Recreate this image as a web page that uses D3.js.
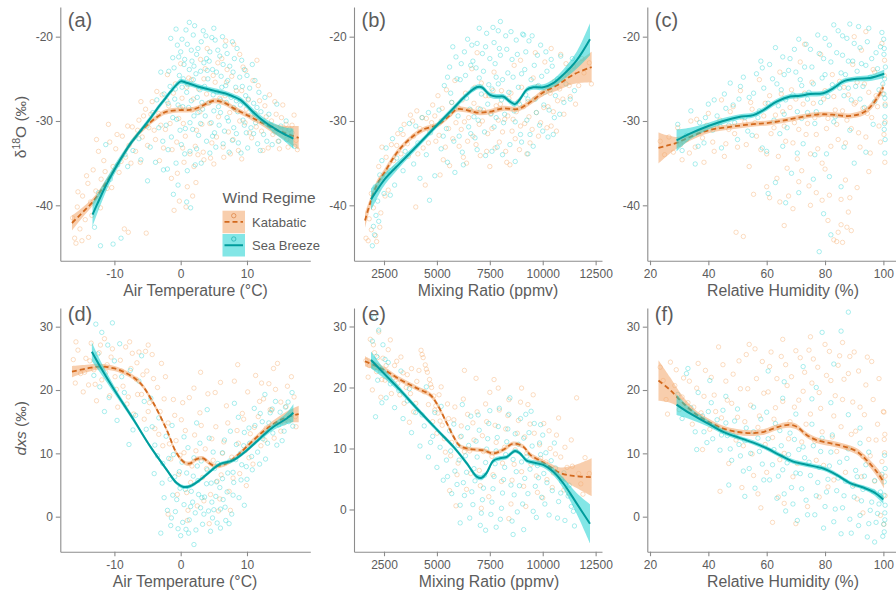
<!DOCTYPE html>
<html><head><meta charset="utf-8">
<script src="https://cdn.jsdelivr.net/npm/d3@7"></script>
<style>
body{margin:0;background:#fff}
svg{display:block}
text{font-family:"Liberation Sans",Arial,Helvetica,sans-serif}
</style>
</head><body>
<svg id="chart" width="896" height="596"></svg>
<script>
// ---------- tick values ----------
const tempTicks = [-10, 0, 10];
const mixTicks = [2500, 5000, 7500, 10000, 12500];
const rhTicks = [20, 40, 60, 80, 100];
const d18oTicks = [-40, -30, -20];
const dxsTicks = [0, 10, 20, 30];

const regimes = ["Katabatic", "Sea Breeze"];

// ---------- (a) d18O vs air temperature ----------
const aKatPoints = [[-16.3,-41.5],[-16.0,-43.9],[-15.6,-40.2],[-15.2,-42.8],[-14.8,-38.9],[-14.4,-41.7],[-14.0,-37.4],[-13.6,-39.6],[-13.2,-35.8],[-12.8,-38.3],[-12.4,-33.6],[-12.0,-36.9],[-11.6,-34.7],[-11.1,-38.0],[-10.7,-32.5],[-10.2,-35.4],[-9.8,-33.3],[-9.3,-36.1],[-8.8,-31.8],[-8.3,-34.3],[-7.8,-32.9],[-7.3,-30.7],[-6.8,-33.6],[-6.3,-29.9],[-5.8,-31.9],[-5.3,-28.6],[-4.8,-30.8],[-4.3,-27.7],[-3.8,-32.2],[-3.3,-29.1],[-2.8,-26.9],[-2.3,-31.0],[-1.8,-28.2],[-1.3,-33.4],[-0.8,-25.6],[-0.3,-29.7],[0.2,-27.3],[0.7,-31.8],[1.2,-24.9],[1.7,-28.7],[2.2,-33.0],[2.7,-26.2],[3.2,-30.4],[3.7,-23.8],[4.2,-27.9],[4.7,-32.6],[5.2,-25.4],[5.7,-29.5],[6.2,-22.6],[6.7,-27.0],[7.2,-31.3],[7.7,-24.7],[8.2,-28.6],[8.7,-33.5],[9.2,-26.4],[9.7,-30.2],[10.2,-27.5],[10.7,-32.0],[11.2,-29.1],[11.7,-25.8],[12.2,-31.2],[12.7,-28.2],[13.2,-33.2],[13.7,-30.0],[14.2,-27.7],[14.7,-32.4],[15.2,-29.6],[15.7,-31.0],[16.2,-33.1],[16.8,-30.5],[17.4,-32.3],[0.5,-34.9],[2.0,-35.4],[3.5,-34.6],[5.0,-35.1],[6.5,-34.3],[1.0,-37.8],[-0.5,-36.2],[-1.0,-40.6],[1.8,-38.9],[-8.5,-42.8],[-7.9,-43.2],[-5.2,-43.3],[-15.8,-44.5],[-14.9,-44.2],[-13.9,-43.8],[-12.7,-32.2],[-10.9,-30.4],[-6.0,-27.7],[4.0,-21.4],[6.8,-20.5],[3.0,-22.7],[8.9,-22.1],[9.8,-24.0],[11.5,-22.8],[-2.0,-24.5],[0.0,-23.2],
  [-15.5,-38.4],[-14.2,-36.5],[-13.4,-41.2],[-12.1,-40.3],[-11.4,-36.0],[-10.4,-37.9],[-9.6,-31.6],[-9.0,-34.8],[-8.0,-30.6],[-7.5,-35.0],[-6.5,-31.1],[-6.1,-34.9],[-5.6,-29.4],[-5.0,-32.9],[-4.5,-29.2],[-4.0,-31.1],[-3.6,-26.5],[-3.0,-30.5],[-2.6,-33.2],[-2.1,-27.6],[-1.6,-30.3],[-1.1,-26.7],[-0.6,-32.5],[-0.1,-28.4],[0.4,-30.3],[0.9,-26.0],[1.4,-33.9],[1.9,-27.4],[2.4,-31.1],[2.9,-28.9],[3.4,-33.7],[3.9,-26.8],[4.4,-30.3],[4.9,-24.6],[5.4,-31.9],[5.9,-27.3],[6.4,-33.1],[6.9,-25.4],[7.4,-29.0],[7.9,-32.2],[8.4,-26.4],[8.9,-30.0],[9.4,-23.6],[9.9,-28.6],[10.4,-31.4],[10.9,-25.2],[11.4,-30.7],[11.9,-27.6],[12.4,-33.5],[12.9,-29.5],[13.4,-26.9],[13.9,-31.6],[14.4,-29.2],[14.9,-33.3],[15.4,-28.1],[15.9,-30.4],[16.5,-31.8],[17.1,-29.3],[17.6,-33.4],[2.6,-34.0],[4.5,-34.4],[7.5,-33.9],[9.2,-34.5],[-3.2,-34.7],[0.3,-33.2],[1.6,-25.1],[3.5,-25.0],[5.6,-23.1],[7.0,-23.9],[8.0,-20.9],[-1.4,-36.8],[-0.2,-39.5],[2.3,-37.3],[0.8,-40.2]];
const aSeaPoints = [[-1.8,-24.1],[-1.2,-22.5],[-0.5,-21.0],[0.2,-20.3],[0.8,-19.2],[1.3,-18.3],[1.9,-19.8],[2.6,-21.4],[3.1,-20.6],[3.8,-19.9],[4.4,-21.8],[5.2,-20.4],[5.9,-22.3],[6.7,-21.1],[7.4,-23.5],[8.1,-22.6],[8.9,-24.8],[9.6,-23.9],[10.4,-26.1],[11.2,-25.2],[-2.5,-26.8],[-1.6,-25.9],[-0.9,-27.4],[-0.2,-24.6],[0.5,-23.3],[1.1,-25.7],[1.7,-22.9],[2.3,-24.4],[2.9,-26.3],[3.5,-23.1],[4.1,-25.0],[4.8,-23.9],[5.5,-26.6],[6.1,-24.7],[6.8,-25.8],[7.6,-27.2],[8.3,-26.0],[9.0,-28.1],[9.8,-27.0],[10.6,-29.3],[11.5,-28.4],[12.4,-30.1],[13.3,-29.2],[14.2,-31.3],[15.1,-30.6],[16.0,-32.2],[16.8,-31.4],[-2.2,-30.5],[-1.4,-31.9],[-0.6,-29.8],[0.1,-32.8],[0.7,-30.9],[1.4,-33.6],[2.0,-29.4],[2.7,-31.7],[3.3,-28.6],[3.9,-32.4],[4.6,-30.2],[5.3,-33.1],[6.0,-29.0],[6.6,-31.2],[7.3,-33.7],[8.0,-30.8],[8.7,-32.6],[9.4,-29.9],[10.1,-33.2],[11.0,-31.5],[12.0,-33.5],[13.0,-32.4],[-4.2,-29.0],[-3.6,-27.5],[-3.0,-24.2],[-5.1,-30.6],[-6.3,-32.1],[-7.2,-33.5],[-8.4,-34.0],[-9.5,-35.2],[-10.6,-36.9],[-11.3,-32.8],[-12.4,-38.5],[-13.0,-42.6],[-12.1,-44.8],[-10.2,-44.6],[-9.0,-43.9],[-5.0,-37.1],[-3.8,-34.9],[-2.6,-35.8],[-1.1,-38.7],[0.9,-39.6],[1.5,-40.3],[-0.4,-37.6],[2.2,-35.2],[-1.9,-33.4],[0.3,-28.3],[-0.8,-26.2],[1.6,-27.6],[4.3,-27.8],[5.7,-28.3],[7.0,-29.6],[8.6,-28.9],[14.5,-28.0],[12.7,-27.2],[11.8,-26.6],[15.9,-30.0],
  [-1.5,-20.2],[-0.7,-19.1],[0.0,-21.8],[0.6,-22.7],[1.0,-20.9],[1.6,-21.6],[2.1,-18.7],[2.4,-22.1],[3.4,-19.3],[3.9,-22.6],[4.7,-20.1],[5.0,-19.0],[5.6,-21.6],[6.3,-20.0],[7.0,-22.0],[7.8,-20.6],[8.5,-21.4],[9.2,-22.8],[10.0,-24.6],[10.8,-23.3],[-1.9,-27.9],[-1.0,-23.7],[-0.3,-22.4],[0.4,-25.0],[0.9,-26.6],[1.3,-23.9],[1.9,-25.1],[2.5,-27.2],[3.0,-24.1],[3.6,-25.9],[4.3,-22.9],[4.9,-26.9],[5.4,-24.2],[6.0,-27.5],[6.4,-23.3],[7.1,-25.2],[7.9,-24.2],[8.4,-27.6],[9.3,-25.9],[10.2,-27.4],[11.0,-27.9],[12.1,-28.9],[13.6,-30.5],[-2.7,-32.4],[-1.2,-29.6],[-0.1,-31.1],[0.6,-33.9],[1.2,-28.4],[1.8,-31.0],[2.4,-33.3],[3.0,-30.3],[3.7,-29.4],[4.4,-33.8],[5.1,-31.4],[5.8,-30.5],[6.4,-32.7],[7.2,-30.0],[7.8,-32.3],[8.4,-31.5],[9.1,-33.8],[9.9,-31.4],[10.6,-30.8],[11.6,-32.7],[12.5,-31.6],[13.8,-32.8],[14.8,-32.4],[16.4,-31.0],[17.2,-33.0],[-3.3,-30.8],[-4.6,-33.1],[-6.0,-34.6],[-8.0,-35.4],[-2.0,-35.7],[-0.7,-35.0],[1.0,-35.9],[3.1,-35.0],[0.2,-26.0],[2.0,-23.5],[4.0,-24.0],[6.2,-26.0],[8.0,-28.4],[3.2,-27.8],[5.0,-28.8],[-0.4,-28.1],[1.4,-30.2],[2.6,-29.0],[4.8,-31.8],[6.9,-27.8],[9.6,-30.5],[11.3,-30.2]];
// smooth fits: [x, fitted value, half-width of confidence band]
const aKatFit = [[-16.4,-42.1,0.9],[-15.5,-41.4,0.7],[-14.5,-40.6,0.55],[-13.5,-39.8,0.45],[-12.5,-38.8,0.4],[-11.5,-37.6,0.35],[-10.5,-36.4,0.35],[-9.5,-35.1,0.3],[-8.5,-33.8,0.3],[-7.5,-32.6,0.3],[-6.5,-31.6,0.3],[-5.5,-30.8,0.3],[-4.5,-30.1,0.3],[-3.5,-29.5,0.3],[-2.5,-29.0,0.3],[-1.5,-28.8,0.3],[0,-28.7,0.3],[1,-28.7,0.3],[2,-28.6,0.3],[3,-28.3,0.3],[4,-27.9,0.3],[5,-27.6,0.3],[6,-27.7,0.3],[7,-28.0,0.3],[8,-28.5,0.3],[9,-28.9,0.3],[10,-29.3,0.3],[11,-29.7,0.35],[12,-30.1,0.35],[13,-30.5,0.45],[14,-30.9,0.55],[15,-31.2,0.7],[16,-31.5,0.9],[17,-31.8,1.2],[17.8,-32.0,1.4]];
const aSeaFit = [[-13.3,-41.1,1.4],[-12.5,-39.7,1.1],[-11.5,-38.0,0.8],[-10.5,-36.5,0.6],[-9.5,-35.1,0.5],[-8.5,-33.8,0.4],[-7.5,-32.6,0.35],[-6.5,-31.6,0.3],[-5.5,-30.6,0.3],[-4.5,-29.6,0.3],[-3.5,-28.5,0.3],[-2.5,-27.5,0.3],[-1.5,-26.5,0.3],[-0.5,-25.6,0.3],[0,-25.3,0.3],[1,-25.5,0.3],[3,-26.0,0.3],[5,-26.4,0.3],[7,-26.8,0.3],[8,-27.1,0.3],[9,-27.5,0.35],[10,-28.2,0.35],[11,-29.0,0.4],[12,-29.7,0.4],[13,-30.3,0.45],[14,-30.8,0.55],[15,-31.3,0.7],[16,-31.7,0.9],[17,-32.1,1.2]];

// ---------- (b) d18O vs mixing ratio ----------
const bKatPoints = [[1650,-43.9],[1750,-44.2],[1800,-41.6],[1900,-42.9],[2000,-40.3],[2100,-43.6],[2200,-38.1],[2250,-35.4],[2350,-40.9],[2450,-36.7],[2600,-34.3],[2700,-38.2],[2850,-32.8],[3000,-35.6],[3150,-31.5],[3300,-33.9],[3450,-30.4],[3600,-32.7],[3750,-29.3],[3900,-31.8],[4000,-40.2],[4050,-28.8],[4200,-30.9],[4350,-33.2],[4450,-37.6],[4500,-29.7],[4650,-31.3],[4800,-28.1],[4950,-32.4],[5050,-27.0],[5200,-30.0],[5300,-34.6],[5450,-26.3],[5600,-29.2],[5750,-32.1],[5850,-25.2],[6000,-28.4],[6150,-31.0],[6250,-34.3],[6350,-26.7],[6500,-29.6],[6650,-23.8],[6750,-27.9],[6850,-32.8],[7000,-30.4],[7100,-25.5],[7200,-28.7],[7350,-33.6],[7450,-27.0],[7600,-30.9],[7700,-24.2],[7800,-28.2],[7950,-32.5],[8050,-26.4],[8200,-29.8],[8300,-34.9],[8400,-27.3],[8550,-31.2],[8650,-23.4],[8750,-28.9],[8900,-33.4],[9000,-26.0],[9150,-30.3],[9300,-27.7],[9400,-32.6],[9550,-24.9],[9700,-29.0],[9800,-31.8],[9950,-26.8],[10100,-23.0],[10250,-28.3],[10400,-30.6],[10550,-25.3],[10700,-27.6],[10850,-22.1],[11000,-29.2],[11150,-24.6],[11300,-27.1],[11450,-23.5],[11700,-25.8],[11950,-24.3],[12200,-23.1],[12300,-25.6],[10400,-21.4],[9650,-21.9],[8950,-22.8],[5150,-36.4],[2150,-44.3],[2400,-33.1],[6900,-21.9],
  [3100,-32.9],[3400,-31.6],[3650,-34.2],[3850,-30.0],[4100,-33.9],[4300,-29.6],[4600,-32.6],[4750,-30.2],[4900,-29.4],[5100,-31.7],[5250,-28.5],[5400,-33.1],[5550,-30.9],[5700,-27.8],[5900,-30.2],[6050,-33.0],[6200,-27.5],[6300,-30.1],[6450,-32.4],[6600,-28.7],[6700,-31.8],[6800,-26.0],[6950,-28.5],[7050,-34.1],[7150,-30.0],[7300,-27.0],[7400,-31.5],[7550,-29.2],[7650,-26.4],[7750,-33.2],[7900,-29.9],[8000,-28.0],[8100,-31.3],[8250,-33.6],[8350,-29.4],[8500,-26.7],[8600,-29.8],[8700,-32.1],[8850,-27.7],[8950,-30.6],[9100,-28.3],[9250,-33.9],[9350,-29.5],[9500,-31.0],[9600,-27.4],[9750,-25.9],[9900,-30.2],[10050,-28.4],[10200,-30.8],[10350,-26.7],[10500,-28.9],[10650,-31.2],[10800,-26.2],[10950,-27.4],[11100,-23.2],[11250,-25.8],[11550,-28.0],[11850,-22.6],[1900,-38.6],[2300,-42.6],[2550,-38.9],[2650,-36.0],[2950,-34.7],[5600,-35.3],[6400,-35.0],[7500,-35.4],[8450,-35.2]];
const bSeaPoints = [[1950,-44.8],[2050,-43.5],[2120,-41.2],[2200,-39.5],[2080,-37.8],[2300,-36.4],[2400,-34.7],[2600,-33.2],[2500,-38.6],[2750,-35.9],[2900,-32.1],[3100,-34.4],[3300,-31.0],[3500,-33.6],[3700,-30.3],[3900,-35.1],[4100,-32.6],[4300,-29.6],[4500,-34.0],[4650,-39.4],[4700,-31.4],[4900,-36.5],[5100,-28.7],[5200,-33.3],[5350,-25.8],[5450,-30.9],[5600,-23.6],[5700,-27.8],[5800,-32.4],[5900,-22.4],[6000,-29.4],[6100,-25.1],[6200,-33.7],[6300,-21.8],[6400,-27.3],[6500,-30.7],[6600,-23.4],[6700,-26.2],[6800,-32.0],[6900,-20.8],[7000,-24.9],[7050,-28.6],[7150,-22.0],[7250,-31.3],[7350,-19.6],[7450,-25.7],[7550,-29.1],[7650,-18.9],[7750,-23.2],[7850,-33.1],[7950,-21.4],[8050,-27.5],[8150,-30.2],[8250,-19.9],[8350,-24.3],[8450,-32.8],[8550,-22.7],[8650,-28.8],[8750,-20.4],[8850,-26.0],[8950,-31.6],[9050,-19.7],[9150,-23.9],[9250,-29.9],[9350,-20.5],[9450,-25.1],[9550,-33.0],[9650,-27.4],[9750,-22.2],[9850,-30.5],[9950,-24.7],[10050,-28.1],[10150,-21.8],[10250,-31.9],[10350,-26.3],[10450,-23.5],[10550,-29.6],[10700,-25.0],[10850,-22.3],[11000,-27.8],[11200,-24.0],[11400,-22.6],[11500,-26.4],[6250,-35.2],[7300,-34.1],[8700,-34.8],[3000,-37.6],[4200,-36.8],[5500,-34.9],[6700,-22.9],[7900,-25.6],[9200,-26.9],[8000,-18.2],[7700,-20.7],[6950,-29.9],[6050,-31.8],
  [5500,-24.8],[5650,-26.7],[5750,-21.2],[5950,-25.0],[6150,-23.2],[6350,-24.6],[6450,-20.3],[6550,-28.6],[6650,-21.0],[6750,-29.5],[6850,-23.7],[7000,-19.0],[7100,-26.8],[7200,-24.1],[7300,-21.2],[7400,-28.0],[7500,-22.6],[7600,-26.2],[7700,-30.7],[7800,-24.8],[7900,-19.3],[8000,-22.2],[8100,-25.1],[8200,-29.2],[8300,-21.5],[8400,-26.6],[8500,-19.4],[8600,-24.8],[8700,-30.1],[8800,-22.1],[8900,-28.0],[9000,-24.4],[9100,-19.8],[9200,-21.8],[9300,-27.4],[9400,-31.6],[9500,-19.9],[9600,-23.4],[9700,-29.0],[9800,-25.8],[9900,-21.0],[10000,-31.2],[10100,-26.6],[10200,-24.1],[10300,-28.7],[10400,-22.7],[10600,-27.0],[10800,-29.2],[11100,-25.6],[11300,-27.4],[6900,-33.4],[7600,-33.6],[8100,-34.0],[9300,-33.9],[5300,-31.8],[4600,-29.0],[4000,-30.6],[3400,-35.9],[2800,-38.8],[2250,-41.9],[2000,-42.5],[5850,-36.1],[6600,-31.5],[7800,-29.6],[9000,-32.5],[10500,-31.6]];
const bKatFit = [[1602,-41.8,0.9],[1839,-39.8,0.6],[2154,-37.6,0.5],[2500,-36.2,0.45],[3098,-33.8,0.35],[3728,-32.1,0.3],[4358,-31.0,0.3],[5000,-30.5,0.3],[5618,-29.3,0.3],[5934,-28.6,0.3],[6406,-28.7,0.3],[6878,-29.0,0.3],[7508,-28.9,0.3],[8138,-28.5,0.3],[8768,-28.6,0.3],[9084,-28.3,0.3],[9556,-27.5,0.35],[10028,-26.6,0.4],[10658,-25.8,0.6],[11446,-24.5,1.1],[12312,-23.6,1.8]];
const bSeaFit = [[1886,-39.3,1.3],[2200,-38.1,0.9],[2500,-37.0,0.7],[3256,-35.0,0.45],[4043,-33.0,0.35],[5000,-30.5,0.3],[5776,-28.5,0.3],[6406,-26.9,0.3],[6878,-26.0,0.3],[7115,-26.0,0.3],[7508,-26.9,0.3],[7823,-27.1,0.3],[8138,-27.1,0.3],[8453,-27.7,0.3],[8690,-28.0,0.3],[8926,-27.4,0.3],[9241,-26.3,0.3],[9556,-26.0,0.3],[10028,-26.0,0.35],[10500,-25.5,0.45],[10973,-24.5,0.6],[11603,-22.8,1.0],[12233,-20.3,1.9]];

// ---------- (c) d18O vs relative humidity ----------
const cKatPoints = [[23.5,-32.4],[25.0,-34.0],[26.5,-31.9],[28.0,-33.7],[29.5,-30.8],[31.0,-34.6],[32.5,-32.2],[34.0,-30.0],[35.5,-33.1],[37.0,-31.3],[38.5,-34.9],[40.0,-29.1],[41.5,-32.5],[43.0,-30.6],[44.5,-27.5],[45.5,-34.2],[47.0,-31.0],[48.5,-28.3],[50.0,-33.1],[51.0,-26.4],[52.5,-30.1],[54.0,-35.4],[55.0,-28.6],[56.5,-31.8],[57.5,-25.1],[59.0,-29.4],[60.0,-33.9],[61.0,-27.0],[62.5,-30.8],[63.5,-36.8],[64.5,-24.2],[65.5,-28.9],[66.5,-32.4],[67.5,-38.9],[68.5,-26.3],[69.5,-30.2],[70.5,-34.5],[71.5,-23.0],[72.5,-28.0],[73.5,-31.6],[74.5,-37.7],[75.5,-25.4],[76.5,-29.6],[77.5,-33.3],[78.5,-22.1],[79.5,-27.4],[80.5,-30.9],[81.5,-38.8],[82.5,-24.5],[83.5,-28.7],[84.5,-32.2],[85.5,-42.3],[86.5,-26.0],[87.5,-29.9],[88.5,-39.1],[89.5,-23.3],[90.5,-27.8],[91.5,-31.4],[92.5,-21.6],[93.5,-25.6],[94.5,-29.1],[95.5,-33.8],[96.5,-23.9],[97.5,-27.0],[98.5,-30.6],[99.5,-20.8],[100.3,-24.6],[100.6,-28.0],[100.2,-31.6],[100.5,-34.9],[83.0,-44.1],[84.5,-43.2],[86.0,-44.4],[87.5,-42.6],[88.0,-40.8],[49.5,-43.2],[52.0,-43.7],[66.0,-42.4],[61.0,-39.1],[55.5,-38.7],[69.0,-40.4],[77.0,-38.5],[73.0,-20.9],[90.0,-20.0],[94.0,-19.4],[80.0,-35.7],
  [30.5,-32.8],[33.5,-33.8],[36.0,-29.8],[38.0,-32.0],[39.5,-30.5],[42.0,-33.6],[44.0,-29.9],[46.0,-32.7],[47.5,-28.9],[49.0,-31.5],[51.5,-29.6],[53.0,-32.8],[54.5,-27.8],[56.0,-30.2],[58.0,-33.4],[59.5,-27.9],[61.5,-31.5],[63.0,-29.3],[64.0,-34.2],[65.0,-26.8],[66.0,-30.6],[67.0,-35.6],[68.0,-28.4],[69.0,-32.6],[70.0,-27.4],[71.0,-31.0],[72.0,-35.9],[73.0,-26.7],[74.0,-30.3],[75.0,-33.9],[76.0,-27.9],[77.0,-31.6],[78.0,-29.3],[79.0,-35.0],[80.0,-26.4],[81.0,-29.7],[82.0,-33.0],[83.0,-27.1],[84.0,-30.4],[85.0,-25.3],[86.0,-28.8],[87.0,-32.6],[88.0,-26.9],[89.0,-30.9],[90.0,-28.0],[91.0,-25.4],[92.0,-33.1],[93.0,-28.5],[94.0,-31.9],[95.0,-26.6],[96.0,-29.6],[97.0,-24.2],[98.0,-28.3],[99.0,-32.5],[99.8,-26.8],[100.4,-22.8],[100.6,-30.1],[60.0,-37.8],[64.5,-39.6],[71.0,-37.2],[75.0,-40.0],[79.0,-39.4],[81.0,-41.8],[84.0,-44.3],[85.5,-39.3],[89.0,-43.0],[87.0,-37.0],[91.0,-37.9],[95.0,-36.0]];
const cSeaPoints = [[29.5,-30.4],[31.0,-33.5],[32.5,-31.7],[34.0,-28.8],[35.5,-35.1],[37.0,-30.2],[38.5,-32.6],[40.0,-28.0],[41.5,-31.1],[43.0,-29.4],[44.5,-33.2],[45.5,-26.8],[47.0,-30.5],[48.5,-28.1],[50.0,-32.2],[51.0,-25.9],[52.5,-29.6],[54.0,-27.2],[55.0,-31.7],[56.5,-24.4],[57.5,-28.8],[59.0,-26.1],[60.0,-33.6],[61.0,-23.3],[62.5,-29.9],[63.5,-25.6],[64.5,-31.5],[65.5,-22.4],[66.5,-27.5],[67.5,-24.0],[68.5,-36.2],[69.5,-21.5],[70.5,-28.9],[71.5,-25.1],[72.5,-32.7],[73.5,-20.9],[74.5,-26.6],[75.5,-23.6],[76.5,-30.3],[77.5,-19.8],[78.5,-27.8],[79.5,-22.6],[80.5,-33.9],[81.5,-21.0],[82.5,-25.7],[83.5,-29.5],[84.5,-19.3],[85.5,-24.3],[86.5,-27.0],[87.5,-20.2],[88.5,-31.1],[89.5,-22.9],[90.5,-25.9],[91.5,-18.8],[92.5,-23.2],[93.5,-28.4],[94.5,-20.6],[95.5,-24.8],[96.5,-30.4],[97.5,-21.9],[98.5,-26.3],[99.5,-19.5],[100.2,-22.1],[100.4,-25.0],[100.6,-28.2],[100.3,-31.0],[100.5,-33.8],[100.1,-20.3],[100.7,-23.6],[100.2,-26.8],[100.5,-29.5],[60.5,-38.6],[63.0,-37.3],[66.5,-39.7],[71.0,-38.5],[76.0,-36.9],[79.5,-41.0],[82.0,-43.5],[78.0,-45.5],[85.5,-37.8],[90.0,-35.0],[72.0,-25.8],[66.0,-29.2],[58.0,-22.9],[86.0,-22.2],[88.0,-26.1],[74.0,-29.0],[80.0,-24.5],[92.0,-27.4],
  [42.0,-27.5],[44.0,-30.6],[46.0,-28.5],[47.5,-25.5],[49.0,-30.2],[50.5,-27.4],[52.0,-24.8],[53.5,-31.2],[55.5,-26.7],[57.0,-29.6],[58.5,-23.7],[60.5,-27.9],[62.0,-25.0],[63.0,-21.3],[64.0,-28.2],[65.0,-26.3],[66.0,-24.5],[67.0,-30.8],[68.0,-22.6],[69.0,-26.9],[70.0,-24.2],[71.0,-20.3],[72.0,-29.7],[73.0,-23.6],[74.0,-27.4],[75.0,-21.5],[76.0,-25.6],[77.0,-28.9],[78.0,-22.0],[79.0,-24.9],[80.0,-20.2],[81.0,-27.1],[82.0,-23.0],[83.0,-30.1],[84.0,-21.9],[85.0,-26.1],[86.0,-19.9],[87.0,-24.5],[88.0,-22.9],[89.0,-27.5],[90.0,-20.8],[91.0,-24.1],[92.0,-21.3],[93.0,-25.9],[94.0,-23.4],[95.0,-19.0],[96.0,-22.6],[97.0,-27.7],[98.0,-23.8],[99.0,-21.2],[99.8,-25.6],[100.5,-27.3],[100.3,-21.4],[100.6,-32.2],[100.4,-30.3],[70.5,-33.8],[76.5,-34.0],[58.5,-33.2],[81.5,-36.6],[86.5,-33.1],[94.0,-33.7],[36.5,-33.0],[39.0,-29.6],[65.5,-33.0],[88.5,-18.5],[83.0,-18.6]];
const cKatFit = [[22.9,-33.2,1.85],[26,-32.9,1.2],[29.1,-32.6,0.7],[33.7,-31.9,0.45],[40,-31.1,0.35],[47.4,-30.7,0.3],[54.3,-30.4,0.3],[61.1,-30.2,0.3],[68,-29.8,0.3],[73.7,-29.4,0.3],[79.4,-29.2,0.3],[84,-29.3,0.3],[88.6,-29.4,0.3],[93.1,-29.0,0.35],[96.6,-27.9,0.4],[100,-26.0,0.5]];
const cSeaFit = [[29.1,-32.3,1.3],[33.7,-31.5,0.7],[40,-30.6,0.4],[45.1,-30.0,0.35],[50.9,-29.5,0.3],[55.4,-29.3,0.3],[58.9,-28.7,0.3],[63.4,-27.7,0.3],[68,-27.1,0.3],[71.4,-27.0,0.3],[74.9,-26.8,0.3],[79.4,-26.7,0.3],[82.9,-26.1,0.3],[86.3,-25.3,0.3],[90.9,-25.0,0.3],[95.4,-24.9,0.35],[100.3,-24.4,0.5]];

// ---------- (d) dxs vs air temperature ----------
const dKatPoints = [[-16.2,24.8],[-15.9,21.1],[-15.5,26.3],[-15.1,22.6],[-14.7,19.7],[-14.3,25.0],[-13.9,20.8],[-13.5,27.4],[-13.1,23.2],[-12.7,18.3],[-12.3,25.9],[-11.9,21.6],[-11.5,28.1],[-11.1,24.0],[-10.7,19.1],[-10.3,26.5],[-9.9,22.1],[-9.5,17.3],[-9.1,24.7],[-8.7,20.6],[-8.3,26.8],[-7.9,18.9],[-7.5,23.4],[-7.1,16.2],[-6.7,21.7],[-6.3,26.0],[-5.9,19.3],[-5.5,15.4],[-5.1,23.0],[-4.7,18.0],[-4.3,25.6],[-3.9,13.9],[-3.5,20.4],[-3.1,16.6],[-2.7,11.2],[-2.3,22.1],[-1.9,14.8],[-1.5,9.1],[-1.1,18.5],[-0.7,12.0],[-0.3,6.7],[0.1,15.3],[0.5,10.1],[0.9,3.8],[1.3,18.8],[1.7,8.0],[2.1,12.9],[2.5,1.7],[2.9,16.4],[3.3,6.2],[3.7,10.7],[4.1,19.4],[4.5,3.5],[4.9,8.9],[5.3,14.2],[5.7,0.9],[6.1,6.6],[6.5,11.8],[6.9,17.5],[7.3,4.0],[7.7,9.4],[8.1,21.4],[8.5,13.6],[8.9,6.8],[9.3,16.3],[9.7,10.4],[10.1,19.7],[10.5,13.1],[10.9,8.3],[11.3,22.3],[11.7,15.8],[12.1,11.2],[12.5,18.6],[12.9,14.0],[13.3,21.0],[13.7,16.8],[14.1,12.4],[14.6,24.2],[15.1,18.1],[15.6,14.8],[16.1,20.6],[16.6,16.1],[17.1,18.9],[17.4,14.2],[-4.9,27.1],[-6.6,24.3],[3.0,22.8],[1.0,-0.6],[-1.9,0.4],[5.2,19.6],
  [-15.8,27.6],[-14.5,22.8],[-13.7,24.6],[-12.9,20.9],[-12.1,27.1],[-11.3,22.8],[-10.5,25.2],[-9.7,20.1],[-8.9,23.0],[-8.1,17.8],[-7.3,25.8],[-6.5,19.3],[-5.7,22.4],[-4.9,16.6],[-4.1,21.8],[-3.3,13.0],[-2.5,18.6],[-1.7,11.5],[-0.9,16.0],[-0.1,9.7],[0.7,13.6],[1.5,5.4],[2.3,10.4],[3.1,14.4],[3.9,7.6],[4.7,12.3],[5.5,5.6],[6.3,10.0],[7.1,14.8],[7.9,6.1],[8.7,11.6],[9.5,15.4],[10.3,9.3],[11.1,14.1],[11.9,18.2],[12.7,12.1],[13.5,16.9],[14.3,20.1],[15.1,13.5],[15.9,17.4],[16.7,22.1],[17.3,15.8],[0.3,18.0],[2.0,20.3],[6.0,21.2],[8.6,24.0],[12.2,21.1],[14.0,23.4],[-2.9,24.2],[-5.3,26.1],[-7.7,27.6],[3.5,2.5],[4.3,-1.1],[5.9,2.8],[7.5,1.0],[9.9,4.9],[-0.5,3.5],[1.1,1.0]];
const dSeaPoints = [[-12.8,30.4],[-11.9,29.1],[-10.3,30.6],[-12.2,20.5],[-11.5,16.6],[-10.8,18.8],[-9.2,27.3],[-8.5,19.6],[-7.6,23.1],[-6.8,16.0],[-5.9,25.4],[-5.2,13.8],[-4.5,18.7],[-3.9,11.3],[-3.3,15.6],[-2.7,8.4],[-2.2,12.7],[-1.6,5.9],[-1.1,9.8],[-0.6,2.7],[-0.2,7.1],[0.3,-0.9],[0.7,4.3],[1.1,10.9],[1.5,1.6],[1.9,6.4],[2.3,-2.1],[2.7,3.5],[3.1,8.8],[3.5,0.4],[3.9,5.2],[4.3,12.4],[4.7,2.3],[5.1,7.6],[5.5,-1.0],[5.9,4.6],[6.3,10.1],[6.7,1.5],[7.1,6.9],[7.5,13.5],[7.9,3.4],[8.3,9.0],[8.7,15.7],[9.1,5.8],[9.5,11.2],[9.9,7.9],[10.3,14.0],[10.7,9.5],[11.1,17.1],[11.5,12.2],[11.9,8.3],[12.3,15.0],[12.7,19.3],[13.1,11.6],[13.5,16.4],[13.9,13.2],[14.3,18.2],[14.8,14.5],[15.3,12.0],[15.8,17.3],[16.3,15.0],[16.8,19.6],[-3.0,-2.6],[-1.5,-1.4],[0.0,-3.0],[2.0,-4.4],[4.5,-2.3],[6.0,-1.8],[-2.5,3.0],[-0.8,0.8],[1.2,-2.6],[3.2,3.0],[5.0,1.1],[6.8,-0.6],[-4.0,6.8],[-1.3,14.4],[0.5,12.6],[2.4,14.8],[4.0,16.9],[8.1,17.9],[9.6,1.8],[7.3,-1.1],[-7.8,11.4],[-9.6,15.2],
  [-2.8,5.3],[-2.0,1.0],[-1.8,9.2],[-1.2,3.4],[-0.9,6.3],[-0.4,-1.9],[-0.1,4.5],[0.2,8.6],[0.5,1.9],[0.9,6.9],[1.3,-0.5],[1.6,4.0],[2.0,9.3],[2.2,0.6],[2.6,5.7],[2.9,11.6],[3.3,-1.2],[3.6,3.1],[4.0,7.4],[4.2,0.9],[4.6,5.3],[4.9,10.2],[5.3,3.2],[5.6,8.4],[6.0,1.2],[6.3,6.0],[6.6,12.1],[7.0,3.9],[7.4,8.8],[7.7,0.4],[8.0,5.4],[8.4,11.4],[8.8,3.0],[9.2,8.2],[9.6,13.3],[10.0,5.9],[10.4,11.6],[10.8,7.4],[11.2,14.4],[11.6,10.2],[12.0,16.3],[12.4,12.3],[12.8,9.1],[13.3,14.8],[13.8,17.0],[14.5,11.3],[15.0,16.5],[15.6,13.5],[16.2,18.1],[16.9,14.3],[-3.5,9.6],[-4.3,14.2],[-5.5,18.2],[-6.3,21.4],[-7.2,13.7],[-8.9,22.1],[-10.0,24.6],[-11.0,27.1],[-12.5,25.7],[-13.1,22.3],[0.8,-2.0],[1.8,2.3],[3.0,1.4],[4.8,-0.2],[6.4,2.7],[-1.4,-0.2],[2.5,8.0],[5.4,5.5],[7.9,7.0],[9.0,10.0]];
const dKatFit = [[-16.4,22.9,0.9],[-14.2,23.4,0.6],[-12.2,23.7,0.45],[-10,23.4,0.4],[-8.1,22.6,0.4],[-6.1,21.1,0.35],[-4.1,17.9,0.35],[-2.1,13.7,0.35],[-0.6,10.0,0.35],[0.65,8.5,0.35],[1.4,8.4,0.35],[2.4,9.1,0.35],[3.4,9.2,0.35],[4.4,8.4,0.35],[5.2,8.0,0.35],[6.9,8.4,0.35],[8.9,10.0,0.35],[11,12.1,0.4],[13,13.9,0.5],[15.5,15.5,0.8],[17.8,16.2,1.3]];
const dSeaFit = [[-13.4,26.05,1.5],[-12.2,23.8,1.0],[-10,20.0,0.6],[-7.1,15.3,0.4],[-4.6,11.1,0.3],[-2.1,7.4,0.3],[-0.6,5.3,0.3],[0.4,4.7,0.3],[1.4,4.8,0.3],[2.9,5.8,0.3],[4.4,7.1,0.3],[5.9,8.3,0.3],[7.9,8.9,0.3],[10,10.5,0.3],[12,12.4,0.35],[14,14.2,0.5],[16,15.5,0.9],[17,16.4,1.4]];

// ---------- (e) dxs vs mixing ratio ----------
const eKatPoints = [[1650,24.4],[1750,21.7],[1850,27.9],[1950,19.6],[2050,25.7],[2150,22.6],[2250,29.1],[2350,18.4],[2450,24.8],[2550,21.2],[2700,26.2],[2850,19.0],[3000,23.6],[3150,20.7],[3300,25.0],[3450,17.4],[3600,22.1],[3750,19.0],[3900,16.0],[4050,21.0],[4250,26.1],[4350,24.9],[4450,23.7],[4550,22.5],[4650,21.3],[4750,20.0],[4850,18.6],[4950,17.0],[5050,15.8],[5150,14.5],[4400,19.3],[4600,17.2],[4800,14.4],[5000,12.5],[5200,20.1],[5350,11.6],[5500,17.3],[5650,8.8],[5800,14.7],[5950,5.7],[6100,11.9],[6250,18.1],[6400,3.3],[6550,9.6],[6700,14.2],[6850,21.5],[7000,6.4],[7150,12.1],[7300,17.3],[7450,2.1],[7600,8.7],[7750,13.8],[7900,19.9],[8050,4.6],[8200,10.2],[8350,15.4],[8500,0.9],[8650,7.4],[8800,12.5],[8950,17.6],[9100,3.8],[9250,9.2],[9400,14.0],[9550,18.8],[9700,5.5],[9850,10.6],[10000,1.9],[10150,7.8],[10300,12.9],[10450,3.6],[10600,9.1],[10750,15.0],[10900,5.0],[11050,10.2],[11250,2.6],[11400,7.1],[11600,18.3],[11800,4.2],[12000,8.5],[12200,5.9],[6300,22.8],[7700,21.3],[9000,19.9],[5900,0.6],[8400,-1.5],[3700,14.3],
  [1800,23.6],[2000,27.0],[2200,24.9],[2400,21.3],[2600,23.6],[2800,27.8],[2950,21.6],[3100,24.3],[3250,18.8],[3400,22.4],[3550,20.0],[3800,23.1],[4000,17.4],[4150,22.8],[4300,25.4],[4500,23.0],[4700,20.5],[4900,16.3],[5100,18.8],[5250,13.8],[5400,9.4],[5550,14.9],[5700,11.0],[5850,16.8],[6000,7.6],[6150,13.7],[6300,9.5],[6450,15.6],[6600,5.9],[6750,11.4],[6900,16.0],[7050,3.9],[7200,9.5],[7350,14.4],[7500,19.2],[7650,5.7],[7800,11.0],[7950,16.3],[8100,7.6],[8250,13.2],[8400,18.0],[8550,4.8],[8700,9.8],[8850,14.6],[9000,6.2],[9150,11.9],[9300,17.2],[9450,7.4],[9600,12.5],[9750,2.8],[9900,8.4],[10050,14.1],[10200,4.9],[10350,10.0],[10500,6.0],[10650,12.2],[10850,8.6],[11000,3.2],[11150,6.9],[11350,11.4],[11700,5.9],[11900,2.5],[7100,0.2],[9200,0.5],[5600,3.1]];
const eSeaPoints = [[1950,27.6],[2050,31.5],[2150,25.1],[2250,29.4],[2350,22.8],[2450,27.0],[2550,24.6],[2100,15.2],[2600,18.3],[2800,20.6],[3000,16.7],[3200,19.5],[3400,14.9],[3600,17.8],[3800,12.6],[4000,15.9],[4200,10.4],[4400,13.7],[4600,8.6],[4800,12.0],[5000,6.9],[5150,10.2],[5300,4.8],[5450,8.1],[5600,12.9],[5700,2.6],[5850,6.3],[6000,10.5],[6100,0.7],[6250,4.4],[6350,8.8],[6450,13.4],[6550,-1.4],[6650,2.9],[6750,6.7],[6850,11.2],[6950,15.5],[7050,-2.6],[7150,1.6],[7250,5.6],[7350,9.9],[7450,14.1],[7550,-0.8],[7650,3.4],[7750,7.5],[7850,11.8],[7950,16.6],[8050,0.2],[8150,4.9],[8250,9.0],[8350,13.2],[8450,18.3],[8550,-1.9],[8650,2.4],[8750,6.2],[8850,10.7],[8950,14.9],[9050,0.9],[9150,5.1],[9250,8.7],[9350,12.6],[9450,16.1],[9550,-0.3],[9650,3.8],[9750,7.2],[9850,10.9],[9950,2.0],[10050,5.9],[10150,9.3],[10300,-0.9],[10450,3.1],[10600,6.8],[10750,1.3],[10900,4.6],[11050,-1.8],[11200,2.2],[11350,0.5],[11500,-2.7],[5200,16.9],[4500,20.1],[6200,17.2],[8600,-4.1],[7300,-3.4],[9900,13.9],[2400,17.5],
  [5500,5.4],[5650,9.6],[5800,14.0],[5950,4.1],[6050,8.1],[6150,12.0],[6300,2.3],[6400,6.1],[6500,10.5],[6600,15.3],[6700,0.8],[6800,4.7],[6900,8.6],[7000,13.0],[7100,-0.6],[7200,3.5],[7300,7.7],[7400,11.6],[7500,16.2],[7600,1.2],[7700,5.4],[7800,9.6],[7900,13.6],[8000,-1.6],[8100,2.7],[8200,6.9],[8300,11.1],[8400,15.6],[8500,4.0],[8600,8.2],[8700,12.4],[8800,-0.4],[8900,3.9],[9000,7.8],[9100,11.7],[9200,15.6],[9300,2.6],[9400,6.6],[9500,10.4],[9600,14.1],[9700,-1.3],[9800,5.2],[9900,9.0],[10000,12.2],[10100,0.9],[10200,4.4],[10400,8.0],[10550,10.9],[10700,-1.4],[10850,2.7],[11000,6.0],[11250,4.0],[11450,-0.3],[4300,15.5],[4700,11.0],[4900,15.9],[3300,22.7],[3700,19.8],[2700,24.1],[2200,21.2],[2050,23.3],[6100,-2.2],[7800,-2.9],[9100,-3.3]];
const eKatFit = [[1602,24.3,0.8],[2500,22.9,0.5],[3256,21.3,0.4],[4043,19.9,0.4],[4673,18.8,0.4],[4988,17.4,0.4],[5461,14.2,0.4],[5776,12.0,0.4],[6091,10.4,0.35],[6563,9.9,0.35],[7193,9.7,0.35],[7666,9.2,0.35],[8138,9.8,0.35],[8611,10.8,0.35],[9084,10.3,0.35],[9399,9.0,0.4],[9871,8.0,0.45],[10343,7.0,0.6],[10816,6.0,0.9],[11446,5.5,1.7],[12312,5.3,3.1]];
const eSeaFit = [[1886,24.5,1.4],[2500,22.3,0.8],[3256,19.6,0.5],[4043,16.6,0.4],[5000,13.1,0.35],[5776,10.3,0.35],[6406,7.6,0.35],[6878,5.4,0.4],[7115,5.2,0.4],[7351,6.0,0.4],[7666,8.0,0.35],[7981,8.4,0.35],[8296,8.6,0.35],[8690,9.6,0.35],[8926,9.2,0.35],[9241,8.0,0.35],[9556,7.7,0.4],[10028,7.3,0.45],[10500,6.2,0.6],[10973,4.3,0.9],[11603,1.0,1.7],[12233,-2.35,3.2]];

// ---------- (f) dxs vs relative humidity ----------
const fKatPoints = [[23.5,23.6],[25.5,18.5],[27.0,24.4],[28.5,20.7],[30.0,16.9],[31.5,21.9],[33.0,18.0],[34.5,14.6],[36.0,20.3],[37.5,16.4],[39.0,23.1],[40.5,13.8],[42.0,19.2],[43.5,26.8],[44.5,15.6],[46.0,21.4],[47.0,8.4],[48.0,17.9],[49.5,12.1],[50.5,24.6],[51.5,4.6],[52.5,15.0],[53.5,20.2],[55.0,9.9],[56.0,26.5],[57.0,14.1],[58.0,1.4],[59.0,19.5],[60.0,7.0],[61.0,23.7],[62.0,12.5],[63.0,17.2],[64.0,3.1],[65.0,25.3],[66.0,10.0],[67.0,20.7],[68.0,15.0],[69.0,6.3],[70.0,26.2],[71.0,18.4],[72.0,11.8],[73.0,22.8],[74.0,1.6],[75.0,16.2],[76.0,24.9],[77.0,8.9],[78.0,19.6],[79.0,13.4],[80.0,27.2],[81.0,4.7],[82.0,21.5],[83.0,15.9],[84.0,10.3],[85.0,25.4],[86.0,18.5],[87.0,7.0],[88.0,22.6],[89.0,13.0],[90.0,26.0],[91.0,2.8],[92.0,17.3],[93.0,9.5],[94.0,20.8],[95.0,12.2],[96.0,24.5],[97.0,5.6],[98.0,14.6],[99.0,0.2],[100.0,16.6],[100.4,10.1],[100.6,3.3],[100.2,-1.2],[100.5,13.0],[65.5,28.0],[75.0,28.4],[54.0,27.2],[86.0,27.5],[44.0,4.0],[62.0,-0.9],[70.0,-1.1],[38.0,10.6],[90.0,5.0],
  [24.5,21.5],[26.0,16.2],[29.0,23.2],[31.0,18.9],[33.5,21.4],[35.0,17.3],[36.5,24.2],[38.5,19.0],[41.0,22.0],[42.5,16.6],[45.0,24.0],[46.5,18.4],[48.5,22.5],[50.0,15.7],[51.0,20.2],[52.0,11.2],[53.0,25.6],[54.5,17.6],[55.5,6.5],[56.5,21.8],[57.5,15.9],[58.5,24.5],[59.5,11.4],[60.5,19.7],[61.5,26.0],[62.5,15.4],[63.5,21.8],[64.5,9.0],[65.5,18.2],[66.5,24.0],[67.5,12.3],[68.5,22.1],[69.5,17.3],[70.5,8.4],[71.5,25.1],[72.5,19.8],[73.5,14.6],[74.5,26.3],[75.5,21.1],[76.5,11.9],[77.5,23.6],[78.5,17.1],[79.5,8.1],[80.5,22.3],[81.5,26.1],[82.5,12.6],[83.5,19.1],[84.5,23.9],[85.5,14.2],[86.5,21.7],[87.5,10.9],[88.5,25.3],[89.5,18.1],[90.5,13.5],[91.5,23.0],[92.5,6.3],[93.5,16.1],[94.5,25.2],[95.5,9.6],[96.5,18.5],[97.5,12.1],[98.5,21.8],[99.5,8.7],[100.3,12.2],[100.6,6.4],[100.2,16.5],[57.0,3.6],[66.0,2.1],[78.0,3.1],[83.0,5.8],[93.0,0.6]];
const fSeaPoints = [[29.5,19.3],[31.0,15.5],[32.5,22.6],[34.0,17.2],[35.5,13.4],[36.5,19.6],[38.0,15.9],[39.5,11.7],[41.0,18.0],[42.5,14.3],[44.0,10.5],[45.0,16.8],[46.5,12.8],[48.0,8.9],[49.0,15.1],[50.5,11.4],[52.0,7.2],[53.0,14.0],[54.5,10.0],[56.0,4.5],[57.0,12.4],[58.5,8.3],[60.0,16.5],[61.0,5.8],[62.5,10.6],[63.5,2.9],[64.5,13.6],[65.5,7.4],[66.5,0.9],[67.5,9.8],[68.5,4.6],[69.5,12.2],[70.5,-0.6],[71.5,6.8],[72.5,11.0],[73.5,2.6],[74.5,8.6],[75.5,14.6],[76.5,0.3],[77.5,5.4],[78.5,10.3],[79.5,-1.8],[80.5,3.9],[81.5,8.0],[82.5,12.9],[83.5,1.2],[84.5,6.1],[85.5,-2.7],[86.5,3.3],[87.5,9.2],[88.5,-0.4],[89.5,4.8],[90.5,7.3],[91.5,-1.4],[92.5,2.5],[93.5,6.4],[94.5,-3.2],[95.5,1.0],[96.5,4.0],[97.5,-0.9],[98.5,2.0],[99.5,6.7],[100.3,-2.4],[100.5,0.6],[100.2,3.4],[100.6,7.6],[100.4,9.7],[100.1,-1.2],[88.0,32.3],[85.5,29.3],[79.0,29.1],[72.5,23.7],[66.0,21.3],[60.5,23.0],[83.0,24.1],[77.0,20.4],[40.5,21.5],[33.0,23.4],[46.0,19.0],[55.5,17.3],[92.0,11.6],[95.0,10.2],[97.0,-4.0],
  [38.5,13.4],[40.0,16.6],[41.5,12.3],[43.0,15.3],[44.5,12.9],[46.0,14.8],[47.5,10.7],[49.5,13.2],[51.0,9.6],[52.5,12.0],[54.0,7.6],[55.5,13.4],[57.5,10.3],[59.0,5.8],[60.5,12.3],[62.0,8.2],[63.0,14.7],[64.0,6.4],[65.0,11.2],[66.0,3.6],[67.0,8.5],[68.0,13.2],[69.0,2.0],[70.0,6.9],[71.0,10.6],[72.0,4.4],[73.0,9.3],[74.0,0.3],[75.0,6.5],[76.0,11.2],[77.0,3.3],[78.0,7.8],[79.0,12.4],[80.0,1.6],[81.0,5.9],[82.0,10.2],[83.0,-0.8],[84.0,4.1],[85.0,8.6],[86.0,1.4],[87.0,5.6],[88.0,10.7],[89.0,-2.6],[90.0,3.1],[91.0,6.3],[92.0,0.2],[93.0,4.3],[94.0,8.2],[95.0,-1.1],[96.0,2.3],[97.0,5.7],[98.0,0.5],[99.0,3.9],[99.8,-3.1],[100.6,1.8],[100.3,5.5],[100.5,-0.5],[58.0,15.4],[70.0,16.2],[75.5,18.6],[82.0,18.0],[88.0,16.1],[92.0,14.0],[65.5,18.7],[50.0,17.0],[36.0,10.6],[47.0,5.0],[52.5,3.2]];
const fKatFit = [[22.9,21.5,3.2],[26.9,20.0,2.0],[31.4,17.9,1.0],[36,16.1,0.6],[40,15.0,0.5],[45.1,13.9,0.45],[49.7,13.4,0.45],[54.3,13.2,0.45],[59.1,13.4,0.45],[63.4,14.1,0.45],[67.4,14.5,0.45],[70.3,14.2,0.45],[73.7,12.9,0.45],[77.1,12.1,0.45],[81.7,11.6,0.45],[86.3,11.1,0.45],[90.9,10.3,0.5],[94.3,8.9,0.55],[97.7,7.1,0.7],[100.2,5.4,0.9]];
const fSeaFit = [[29.1,17.7,1.65],[33.7,16.3,0.9],[40,14.7,0.5],[45.1,13.4,0.4],[50.9,12.4,0.35],[55.4,11.7,0.35],[60,10.8,0.35],[64.6,9.7,0.35],[69.1,8.7,0.35],[73.7,8.2,0.35],[79.4,7.6,0.35],[84,6.6,0.35],[88.6,5.3,0.35],[93.1,4.6,0.35],[96.6,3.9,0.45],[100,2.7,0.7]];

// ---------- styling ----------
const style = {
  kat: {point: "#F4A460", band: "#F2A66A", line: "#D2691E", dash: "5,3"},
  sea: {point: "#1FD3D3", band: "#1ED2D2", line: "#009C9C", dash: null}
};
const textGray = "#5c5c5c";
const axisGray = "#8c8c8c";
const fontStack = '"Liberation Sans", Arial, Helvetica, sans-serif';

// ---------- panel layout ----------
const colX = [
  {range: [60.3, 310.3], domain: [-18.16, 19.55], ticks: tempTicks, title: "Air Temperature (°C)"},
  {range: [354, 602], domain: [1082, 12801], ticks: mixTicks, title: "Mixing Ratio (ppmv)"},
  {range: [647.3, 900], domain: [19.07, 105.7], ticks: rhTicks, title: "Relative Humidity (%)"}
];
const panels = [
  {tag: "(a)", col: 0, yRange: [260.7, 7], yDomain: [-46.57, -16.48], yTicks: d18oTicks, titleX: 195.5, tagY: 26.5, kat: aKatPoints, sea: aSeaPoints, katFit: aKatFit, seaFit: aSeaFit},
  {tag: "(b)", col: 1, yRange: [260.7, 7], yDomain: [-46.57, -16.48], yTicks: d18oTicks, titleX: 488, tagY: 26.5, kat: bKatPoints, sea: bSeaPoints, katFit: bKatFit, seaFit: bSeaFit},
  {tag: "(c)", col: 2, yRange: [260.7, 7], yDomain: [-46.57, -16.48], yTicks: d18oTicks, titleX: 783, tagY: 26.5, kat: cKatPoints, sea: cSeaPoints, katFit: cKatFit, seaFit: cSeaFit},
  {tag: "(d)", col: 0, yRange: [551.7, 308], yDomain: [-5.53, 32.95], yTicks: dxsTicks, titleX: 185, tagY: 321, kat: dKatPoints, sea: dSeaPoints, katFit: dKatFit, seaFit: dSeaFit},
  {tag: "(e)", col: 1, yRange: [551.7, 308], yDomain: [-6.92, 33.03], yTicks: dxsTicks, titleX: 489, tagY: 321, kat: eKatPoints, sea: eSeaPoints, katFit: eKatFit, seaFit: eSeaFit},
  {tag: "(f)", col: 2, yRange: [551.7, 308], yDomain: [-5.53, 32.95], yTicks: dxsTicks, titleX: 783, tagY: 321, kat: fKatPoints, sea: fSeaPoints, katFit: fKatFit, seaFit: fSeaFit}
];

const svg = d3.select("#chart");
const defs = svg.append("defs");

function styleAxis(sel) {
  sel.attr("font-family", fontStack).attr("font-size", 12);
  sel.select(".domain").attr("stroke", axisGray).attr("stroke-width", 1.1);
  sel.selectAll(".tick line").attr("stroke", axisGray).attr("stroke-width", 1.1);
  sel.selectAll(".tick text").attr("fill", textGray);
}

panels.forEach((p, i) => {
  const cx = colX[p.col];
  const x = d3.scaleLinear().domain(cx.domain).range(cx.range);
  const y = d3.scaleLinear().domain(p.yDomain).range(p.yRange);
  const g = svg.append("g");

  const clipId = "panel-clip-" + i;
  defs.append("clipPath").attr("id", clipId).append("rect")
    .attr("x", cx.range[0]).attr("y", p.yRange[1])
    .attr("width", cx.range[1] - cx.range[0]).attr("height", p.yRange[0] - p.yRange[1]);
  const plot = g.append("g").attr("clip-path", `url(#${clipId})`);

  // observations
  [["kat", p.kat], ["sea", p.sea]].forEach(([k, pts]) => {
    plot.append("g").selectAll("circle").data(pts).join("circle")
      .attr("cx", d => x(d[0])).attr("cy", d => y(d[1])).attr("r", 2.2)
      .attr("fill", "none").attr("stroke", style[k].point)
      .attr("stroke-opacity", 0.42).attr("stroke-width", 0.9);
  });

  // smooth fits with confidence bands
  const band = d3.area().x(d => x(d[0])).y0(d => y(d[1] - d[2])).y1(d => y(d[1] + d[2])).curve(d3.curveCatmullRom);
  const line = d3.line().x(d => x(d[0])).y(d => y(d[1])).curve(d3.curveCatmullRom);
  [["kat", p.katFit], ["sea", p.seaFit]].forEach(([k, fit]) => {
    plot.append("path").datum(fit).attr("d", band)
      .attr("fill", style[k].band).attr("fill-opacity", 0.55);
    plot.append("path").datum(fit).attr("d", line)
      .attr("fill", "none").attr("stroke", style[k].line)
      .attr("stroke-width", k === "sea" ? 2 : 1.8)
      .attr("stroke-dasharray", style[k].dash);
  });

  // axes
  g.append("g").attr("transform", `translate(0,${p.yRange[0]})`)
    .call(d3.axisBottom(x).tickValues(cx.ticks).tickFormat(d => String(d))
      .tickSize(4.5).tickSizeOuter(0).tickPadding(4.6))
    .call(styleAxis);
  g.append("g").attr("transform", `translate(${cx.range[0]},0)`)
    .call(d3.axisLeft(y).tickValues(p.yTicks).tickFormat(d => String(d))
      .tickSize(4.5).tickSizeOuter(0).tickPadding(2.8))
    .call(styleAxis);

  // axis title and panel tag
  g.append("text").attr("x", p.titleX).attr("y", p.yRange[0] + 35)
    .attr("text-anchor", "middle").attr("font-size", 15.8).attr("fill", textGray)
    .text(cx.title);
  g.append("text").attr("x", cx.range[0] + 7.5).attr("y", p.tagY)
    .attr("font-size", 20).attr("fill", textGray).text(p.tag);
});

// y-axis titles
const yt1 = svg.append("text").attr("transform", "translate(25.5,127) rotate(-90)")
  .attr("text-anchor", "middle").attr("font-size", 15.5).attr("fill", textGray);
yt1.append("tspan").text("δ");
yt1.append("tspan").attr("font-size", 10.5).attr("dy", -6).text("18");
yt1.append("tspan").attr("dy", 6).text("O (‰)");

const yt2 = svg.append("text").attr("transform", "translate(25.5,428.3) rotate(-90)")
  .attr("text-anchor", "middle").attr("font-size", 15.5).attr("fill", textGray);
yt2.append("tspan").attr("font-style", "italic").text("dxs");
yt2.append("tspan").text(" (‰)");

// legend
const legend = svg.append("g").attr("transform", "translate(222.5,0)");
legend.append("text").attr("x", 0).attr("y", 203).attr("font-size", 15.5)
  .attr("fill", textGray).text("Wind Regime");
regimes.forEach((name, i) => {
  const k = i === 0 ? "kat" : "sea";
  const top = 210.7 + i * 23.3;
  const key = legend.append("g").attr("transform", `translate(0,${top})`);
  key.append("rect").attr("width", 22.5).attr("height", 22.5)
    .attr("fill", style[k].band).attr("fill-opacity", 0.55);
  key.append("circle").attr("cx", 11.25).attr("cy", 5).attr("r", 2.2)
    .attr("fill", "none").attr("stroke", style[k].line).attr("stroke-opacity", 0.6).attr("stroke-width", 0.9);
  key.append("line").attr("x1", 2).attr("x2", 20.5).attr("y1", 11.25).attr("y2", 11.25)
    .attr("stroke", style[k].line).attr("stroke-width", k === "sea" ? 2 : 1.8)
    .attr("stroke-dasharray", style[k].dash);
  key.append("text").attr("x", 29.5).attr("y", 16).attr("font-size", 13)
    .attr("fill", textGray).text(name);
});
</script>
</body></html>
